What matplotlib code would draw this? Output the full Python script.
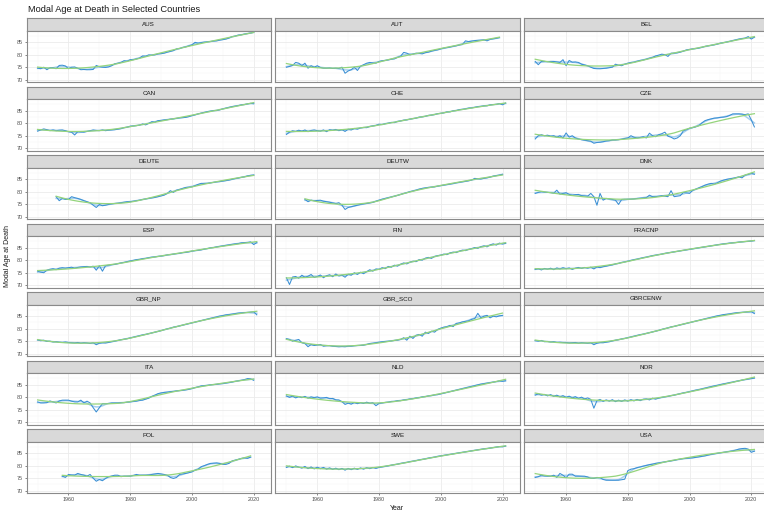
import numpy as np
import matplotlib
matplotlib.use("Agg")
import matplotlib.pyplot as plt

plt.rcParams["font.family"] = ["Liberation Sans", "DejaVu Sans"]

# ---------------------------------------------------------------- data
countries = ["AUS", "AUT", "BEL", "CAN", "CHE", "CZE", "DEUTE", "DEUTW", "DNK",
             "ESP", "FIN", "FRACNP", "GBR_NP", "GBR_SCO", "GBRCENW",
             "ITA", "NLD", "NOR", "POL", "SWE", "USA"]

first_year = {"DEUTE": 1956, "DEUTW": 1956, "POL": 1958}

AUS = [74.6, 74.4, 75.0, 74.0, 74.8, 74.8, 74.4, 75.7, 75.8, 75.5,
       74.4, 75.0, 75.1, 74.6, 74.0, 74.1, 74.0, 74.0, 74.1, 75.7,
       75.2, 75.0, 74.9, 75.1, 75.6, 76.4, 76.6, 76.9, 77.6, 77.4,
       78.0, 78.0, 78.3, 78.6, 79.5, 79.4, 79.9, 79.8, 79.9, 80.3,
       80.4, 80.6, 81.0, 81.3, 81.6, 82.3, 82.4, 82.9, 83.1, 83.5,
       83.9, 84.9, 84.6, 84.8, 85.0, 85.1, 85.2, 85.4, 85.5, 85.8,
       86.0, 86.2, 86.6, 87.2, 87.4, 87.8, 87.9, 88.2, 88.4, 88.6, 88.9]
AUT = [75.0, 75.3, 75.7, 76.9, 76.6, 75.6, 76.6, 74.6, 75.6, 75.0,
       75.6, 74.9, 74.6, 74.6, 74.7, 74.5, 74.6, 74.5, 75.0, 72.6,
       73.5, 74.0, 75.0, 73.7, 75.4, 76.0, 76.6, 76.9, 76.7, 76.6,
       77.3, 77.6, 77.7, 77.9, 78.2, 78.3, 78.9, 79.4, 80.9, 80.6,
       79.9, 80.2, 80.6, 80.5, 80.3, 80.8, 81.0, 81.4, 81.7, 81.9,
       82.3, 82.6, 82.8, 83.0, 83.3, 83.5, 83.8, 84.0, 85.5, 85.2,
       85.4, 85.6, 85.7, 85.8, 85.9, 85.5, 86.1, 86.3, 86.5, 86.8]
BEL = [77.3, 76.0, 77.3, 77.3, 77.2, 77.3, 77.3, 77.1, 76.9, 78.0,
       75.6, 77.7, 77.0, 77.1, 76.9, 76.2, 75.9, 75.6, 75.0, 74.5,
       74.4, 74.4, 74.5, 74.6, 74.8, 75.0, 76.2, 75.8, 75.6, 76.2,
       76.6, 76.9, 77.0, 77.4, 77.7, 77.9, 78.2, 78.6, 78.9, 79.5,
       79.8, 80.2, 80.0, 79.3, 80.6, 80.6, 80.7, 81.0, 81.4, 81.9,
       82.1, 82.3, 82.4, 82.6, 82.9, 83.3, 83.5, 83.7, 83.9, 84.2,
       84.6, 84.8, 85.0, 85.3, 85.6, 85.9, 86.2, 86.4, 86.6, 87.2, 86.2, 87.0]
CAN = [76.8, 77.3, 77.7, 77.4, 77.0, 77.3, 77.0, 77.2, 77.3, 77.0,
       76.6, 76.4, 75.3, 76.6, 76.5, 76.4, 76.7, 77.0, 77.3, 77.1,
       77.0, 77.3, 77.0, 77.2, 77.3, 77.4, 77.6, 77.8, 78.2, 78.4,
       78.8, 78.9, 79.0, 79.2, 79.7, 79.3, 79.9, 80.6, 80.4, 81.0,
       81.1, 81.3, 81.4, 81.6, 81.7, 81.9, 82.1, 82.2, 82.3, 82.6,
       83.0, 83.3, 83.7, 84.0, 84.3, 84.6, 84.8, 85.0, 85.0, 85.3,
       85.7, 86.0, 86.3, 86.6, 86.8, 87.0, 87.3, 87.4, 87.7, 87.9, 87.7]
CHE = [75.5, 76.4, 77.0, 76.7, 77.2, 76.8, 77.3, 76.6, 77.1, 77.3,
       77.0, 76.8, 77.3, 76.6, 77.4, 77.2, 77.5, 77.0, 77.4, 76.7,
       77.6, 77.3, 77.9, 77.6, 78.1, 78.3, 78.2, 78.7, 78.9, 79.1,
       79.6, 79.4, 79.8, 80.0, 80.3, 80.2, 80.7, 80.9, 81.2, 81.3,
       81.6, 81.8, 82.0, 82.4, 82.5, 82.7, 83.1, 83.2, 83.4, 83.8,
       83.9, 84.1, 84.5, 84.5, 84.9, 85.0, 85.4, 85.5, 85.7, 86.0,
       86.1, 86.3, 86.6, 86.7, 86.9, 86.9, 87.3, 87.4, 87.5, 87.8, 87.3, 88.0]
CZE = [73.7, 75.0, 75.4, 75.0, 75.2, 74.8, 75.0, 74.4, 75.0, 74.1,
       76.1, 74.4, 75.0, 74.1, 73.7, 73.4, 73.2, 73.0, 72.8, 72.0,
       72.3, 72.4, 72.6, 72.9, 73.0, 73.3, 73.3, 73.4, 73.6, 73.9,
       74.1, 75.0, 74.4, 74.1, 74.3, 74.6, 74.1, 76.0, 75.0, 74.6,
       75.4, 75.8, 76.4, 74.8, 74.4, 73.7, 74.1, 75.0, 77.0, 77.4,
       78.0, 78.2, 78.5, 79.0, 80.1, 81.0, 81.4, 81.7, 82.0, 82.1,
       82.3, 82.4, 82.6, 83.1, 83.7, 83.7, 83.7, 83.6, 83.4, 83.7, 81.3, 78.5]
DEUTE = [78.0, 76.4, 77.3, 76.9,
         76.9, 78.0, 77.6, 77.3, 76.9, 76.4, 76.0, 75.6, 74.6, 73.7,
         74.9, 74.4, 74.6, 74.9, 75.1, 75.3, 75.4, 75.6, 75.8, 76.0,
         76.0, 76.2, 76.4, 76.6, 76.9, 77.1, 77.3, 77.5, 77.7, 78.0,
         78.3, 78.6, 79.3, 80.4, 79.7, 80.6, 80.9, 81.3, 81.7, 81.8,
         81.9, 82.4, 82.9, 83.3, 83.3, 83.3, 83.5, 83.7, 83.9, 84.0,
         84.2, 84.4, 84.6, 84.9, 85.2, 85.4, 85.7, 85.9, 86.3, 86.5, 86.6]
DEUTW = [76.9, 76.0, 76.6, 76.4,
         76.5, 76.6, 76.2, 76.0, 75.8, 75.5, 75.3, 75.6, 74.6, 72.9,
         73.7, 74.0, 74.3, 74.6, 74.9, 75.1, 75.3, 75.5, 75.7, 76.2,
         76.6, 77.0, 77.3, 77.6, 77.9, 78.2, 78.5, 78.9, 79.3, 79.6,
         80.0, 80.3, 80.6, 81.0, 81.3, 81.5, 81.7, 81.8, 81.9, 82.2,
         82.4, 82.6, 82.8, 83.0, 83.2, 83.5, 83.7, 83.9, 84.1, 84.3,
         84.6, 85.3, 85.1, 85.0, 85.3, 85.5, 85.8, 86.2, 86.4, 86.6, 86.9]
DNK = [79.3, 79.7, 80.0, 79.8, 79.7, 79.6, 79.4, 80.6, 79.0, 79.3,
       79.6, 78.9, 78.6, 78.8, 78.9, 78.4, 78.3, 78.2, 79.3, 78.0,
       74.6, 79.3, 76.6, 77.3, 77.1, 76.9, 76.6, 74.9, 76.9, 77.0,
       77.0, 77.0, 77.1, 77.3, 77.4, 77.5, 77.6, 78.6, 78.0, 78.0,
       78.2, 78.4, 78.2, 78.0, 80.4, 78.0, 78.2, 78.4, 79.7, 79.5,
       79.3, 80.5, 81.0, 81.5, 82.0, 82.6, 83.0, 83.3, 83.0, 83.5,
       84.2, 84.6, 84.9, 85.1, 85.3, 85.6, 85.9, 85.5, 86.6, 86.9, 87.3, 86.9]
ESP = [75.6, 75.2, 75.0, 76.0, 76.4, 76.6, 76.2, 76.8, 77.0, 76.8,
       77.0, 77.2, 76.8, 77.1, 77.3, 77.4, 77.5, 77.3, 77.6, 76.0,
       77.8, 75.6, 77.8, 78.0, 78.2, 78.3, 78.6, 78.9, 79.1, 79.4,
       79.7, 79.9, 80.2, 80.3, 80.6, 80.7, 81.0, 81.2, 81.3, 81.5,
       81.6, 81.8, 82.1, 82.2, 82.4, 82.6, 82.7, 83.0, 83.1, 83.3,
       83.6, 83.8, 83.9, 84.1, 84.4, 84.6, 84.9, 85.0, 85.3, 85.5,
       85.7, 85.9, 86.1, 86.3, 86.5, 86.6, 86.9, 87.0, 87.1, 87.3, 86.2, 87.0]
FIN = [73.0, 70.3, 73.3, 73.5, 72.8, 74.0, 73.2, 73.6, 74.3, 73.1,
       73.5, 74.1, 73.0, 73.8, 74.2, 73.4, 74.5, 73.7, 74.0, 73.2,
       74.4, 74.0, 75.0, 74.3, 75.2, 74.6, 75.4, 76.2, 75.6, 76.5,
       76.3, 77.0, 76.6, 77.5, 77.2, 78.0, 77.6, 78.4, 78.9, 78.5,
       79.2, 79.6, 79.4, 80.2, 80.0, 80.8, 81.1, 80.7, 81.5, 81.8,
       82.0, 82.4, 82.2, 82.9, 83.2, 83.0, 83.6, 84.0, 83.8, 84.3,
       84.6, 85.0, 84.7, 85.4, 85.7, 85.3, 86.1, 86.5, 86.0, 86.8, 86.4, 86.7]
FRACNP = [76.3, 76.6, 76.1, 76.7, 76.4, 76.8, 76.2, 76.9, 76.5, 77.0,
          76.6, 76.9, 76.3, 76.8, 77.1, 76.7, 77.1, 76.8, 77.2, 76.5,
          77.3, 77.0, 77.4, 77.6, 77.9, 78.1, 78.5, 78.7, 79.1, 79.3,
          79.6, 79.9, 80.2, 80.4, 80.7, 81.0, 81.2, 81.5, 81.8, 82.0,
          82.2, 82.4, 82.7, 82.9, 83.1, 83.3, 83.5, 83.7, 83.9, 84.1,
          84.3, 84.5, 84.7, 84.9, 85.1, 85.3, 85.5, 85.7, 85.9, 86.1,
          86.3, 86.5, 86.6, 86.8, 86.9, 87.0, 87.2, 87.3, 87.4, 87.5, 87.6, 87.8]
GBR_NP = [75.5, 75.2, 75.4, 74.9, 75.0, 74.7, 74.8, 74.6, 74.5, 74.7,
          74.5, 74.4, 74.3, 74.5, 74.2, 74.4, 74.3, 74.1, 74.4, 73.6,
          74.2, 74.4, 74.3, 74.5, 74.8, 75.0, 75.3, 75.6, 75.8, 76.0,
          76.3, 76.6, 76.9, 77.2, 77.5, 77.7, 78.0, 78.3, 78.6, 78.9,
          79.2, 79.6, 79.9, 80.2, 80.6, 80.8, 81.1, 81.4, 81.7, 82.0,
          82.3, 82.6, 82.9, 83.2, 83.5, 83.8, 84.1, 84.4, 84.7, 85.0,
          85.2, 85.5, 85.6, 85.8, 86.0, 86.2, 86.3, 86.4, 86.5, 86.6, 86.7, 85.5]
GBR_SCO = [76.0, 75.7, 75.0, 75.4, 75.7, 74.4, 74.1, 72.8, 73.7, 73.3,
           73.5, 73.7, 73.0, 73.2, 73.3, 73.0, 72.9, 72.8, 72.9, 72.8,
           73.0, 73.0, 73.2, 73.3, 73.3, 73.4, 73.7, 74.1, 74.2, 74.4,
           74.6, 74.8, 74.9, 75.0, 75.1, 75.3, 75.4, 75.7, 76.4, 75.4,
           77.0, 76.1, 77.4, 77.7, 77.0, 78.6, 78.1, 79.0, 78.6, 79.7,
           80.2, 80.6, 80.8, 81.3, 80.8, 82.1, 82.3, 82.7, 82.9, 83.1,
           83.7, 84.0, 86.1, 84.3, 85.0, 85.3, 84.3, 85.0, 84.7, 85.1, 85.3]
GBRCENW = [75.2, 75.0, 75.3, 74.8, 74.9, 74.7, 74.8, 74.5, 74.6, 74.5,
           74.5, 74.3, 74.4, 74.5, 74.2, 74.4, 74.3, 74.2, 74.4, 73.6,
           74.2, 74.5, 74.4, 74.6, 74.8, 75.1, 75.4, 75.6, 75.9, 76.1,
           76.4, 76.7, 77.0, 77.3, 77.6, 77.8, 78.1, 78.4, 78.7, 79.0,
           79.3, 79.7, 80.0, 80.3, 80.7, 80.9, 81.2, 81.5, 81.8, 82.1,
           82.4, 82.7, 83.0, 83.3, 83.6, 83.9, 84.2, 84.5, 84.8, 85.1,
           85.3, 85.6, 85.7, 85.9, 86.1, 86.3, 86.4, 86.5, 86.6, 86.7, 86.8, 86.0]
ITA = [78.1, 77.7, 77.7, 77.8, 78.5, 78.1, 77.7, 78.5, 78.8, 78.8,
       78.8, 78.4, 78.1, 78.1, 78.8, 77.7, 78.4, 77.7, 75.8, 74.1,
       75.8, 77.4, 77.4, 77.5, 77.7, 77.7, 77.7, 77.8, 77.8, 78.0,
       78.1, 78.3, 78.4, 78.7, 78.8, 79.2, 79.6, 80.3, 80.8, 81.4,
       81.7, 81.9, 82.0, 82.2, 82.3, 82.5, 82.6, 82.7, 82.9, 83.1,
       83.4, 83.8, 84.1, 84.5, 84.6, 84.7, 84.9, 85.0, 85.1, 85.3,
       85.4, 85.6, 85.8, 86.0, 86.3, 86.5, 86.7, 87.0, 87.4, 87.3, 86.7]
NLD = [80.5, 79.9, 80.4, 79.7, 80.2, 79.8, 80.3, 79.6, 80.1, 79.8,
       80.1, 79.6, 79.7, 79.9, 79.4, 79.5, 78.9, 78.9, 78.2, 77.1,
       77.6, 77.2, 77.9, 77.4, 77.8, 77.5, 78.0, 77.6, 77.8, 76.6,
       77.5, 77.7, 77.9, 78.0, 78.3, 78.3, 78.6, 78.6, 78.9, 79.0,
       79.3, 79.4, 79.7, 79.8, 80.1, 80.2, 80.5, 80.6, 80.9, 81.0,
       81.3, 81.6, 81.9, 82.2, 82.5, 82.8, 83.1, 83.4, 83.7, 84.0,
       84.3, 84.6, 84.9, 85.2, 85.4, 85.6, 85.8, 86.0, 86.2, 86.5, 86.3, 86.5]
NOR = [80.8, 81.3, 80.8, 81.1, 80.5, 81.0, 80.3, 80.8, 80.1, 80.6,
       79.9, 80.4, 79.7, 80.2, 79.5, 80.0, 79.3, 79.7, 79.1, 75.6,
       78.6, 79.1, 78.3, 78.9, 78.4, 79.0, 78.2, 78.8, 78.3, 78.9,
       78.4, 79.0, 78.5, 79.1, 78.6, 79.2, 79.3, 78.9, 79.6, 79.2,
       79.6, 79.9, 80.1, 80.3, 80.6, 80.8, 81.1, 81.4, 81.7, 81.9,
       82.2, 82.5, 82.8, 83.0, 83.3, 83.6, 83.9, 84.2, 84.5, 84.7,
       85.0, 85.3, 85.5, 85.8, 86.0, 86.3, 86.5, 86.8, 87.0, 87.2, 87.4, 87.6]
POL = [75.8, 75.3,
       76.5, 76.3, 76.2, 76.9, 76.5, 76.2, 75.8, 76.5, 75.0, 73.8,
       74.5, 74.0, 74.9, 75.6, 75.9, 76.2, 76.2, 75.6, 75.8, 75.8,
       75.8, 76.1, 76.5, 76.2, 76.2, 76.2, 76.3, 76.5, 76.7, 76.9,
       76.7, 76.5, 76.2, 75.3, 74.9, 75.3, 76.5, 76.7, 76.9, 77.2,
       77.5, 78.2, 78.6, 79.6, 80.0, 80.5, 80.9, 81.0, 81.1, 80.9,
       80.5, 80.5, 80.9, 81.9, 82.2, 82.5, 82.9, 83.1, 82.9, 83.4]
SWE = [79.3, 79.8, 79.2, 79.9, 79.4, 79.0, 79.7, 78.8, 79.5, 78.7,
       79.4, 78.8, 79.3, 78.6, 79.1, 78.5, 79.0, 78.4, 78.9, 78.2,
       78.9, 78.4, 79.0, 78.5, 79.1, 78.6, 79.2, 78.8, 79.3, 78.9,
       79.3, 79.5, 79.7, 79.9, 80.2, 80.4, 80.6, 80.9, 81.1, 81.3,
       81.6, 81.8, 82.0, 82.3, 82.5, 82.7, 83.0, 83.2, 83.4, 83.7,
       83.9, 84.1, 84.3, 84.5, 84.7, 84.9, 85.1, 85.3, 85.5, 85.7,
       85.9, 86.1, 86.3, 86.5, 86.7, 86.8, 87.0, 87.2, 87.4, 87.6, 87.5, 87.8]
USA = [75.3, 75.6, 76.2, 75.9, 75.8, 75.8, 76.2, 75.3, 76.9, 76.2,
       75.2, 76.6, 76.6, 75.8, 75.8, 75.8, 75.8, 75.5, 74.9, 74.9,
       75.3, 75.2, 74.5, 74.2, 74.2, 74.2, 74.2, 74.2, 74.4, 74.6,
       78.0, 78.6, 78.8, 79.2, 79.5, 79.8, 80.1, 80.4, 80.6, 80.9,
       81.1, 81.3, 81.5, 81.7, 81.9, 82.1, 82.4, 82.6, 82.8, 82.9,
       83.0, 83.1, 83.3, 83.5, 83.7, 83.9, 84.2, 84.5, 84.7, 84.9,
       85.1, 85.3, 85.5, 85.7, 85.9, 86.2, 86.6, 86.8, 86.9, 86.6, 85.3, 85.8]

series = {"AUS": AUS, "AUT": AUT, "BEL": BEL, "CAN": CAN, "CHE": CHE,
          "CZE": CZE, "DEUTE": DEUTE, "DEUTW": DEUTW, "DNK": DNK,
          "ESP": ESP, "FIN": FIN, "FRACNP": FRACNP, "GBR_NP": GBR_NP,
          "GBR_SCO": GBR_SCO, "GBRCENW": GBRCENW, "ITA": ITA, "NLD": NLD,
          "NOR": NOR, "POL": POL, "SWE": SWE, "USA": USA}

x_ticks = [1960, 1980, 2000, 2020]
y_ticks = [70, 75, 80, 85]


# ---------------------------------------------------------------- smoothing
def loess(x, y, span=0.75, degree=2):
    x = np.asarray(x, float)
    y = np.asarray(y, float)
    n = len(x)
    k = int(np.ceil(span * n))
    out = np.empty(n)
    for i, x0 in enumerate(x):
        d = np.abs(x - x0)
        h = np.sort(d)[k - 1] * max(1.0, span) + 1e-9
        w = np.clip(1 - (d / h) ** 3, 0, None) ** 3
        X = np.vander(x - x0, degree + 1)
        sw = np.sqrt(w)
        coef, *_ = np.linalg.lstsq(X * sw[:, None], y * sw, rcond=None)
        out[i] = coef[-1]
    return out


# ---------------------------------------------------------------- layout
W_PX, H_PX = 764, 512
fig = plt.figure(figsize=(W_PX / 100, H_PX / 100), dpi=100)
fig.patch.set_facecolor("white")


def rect(x0, y0, w, h):
    return [x0 / W_PX, 1 - (y0 + h) / H_PX, w / W_PX, h / H_PX]


col_left = [26.5, 275.3, 524.1]
panel_w = 244.5
row_top = 18.3
row_step = 68.5
strip_h = 12.5
panel_h = 51.6

XLIM = (1946.4, 2025.6)
YLIM = (68.95, 89.5)

RAW = "#3a8fd4"
SOFT = "#a8d0ee"
TREND = "#95d47c"
EDGE = "#8a8a8a"
GRID = "#ebebeb"

for idx, name in enumerate(countries):
    r, c = divmod(idx, 3)
    x0 = col_left[c]
    y0 = row_top + r * row_step

    # facet strip
    sax = fig.add_axes(rect(x0, y0, panel_w, strip_h))
    sax.set_xlim(0, 1)
    sax.set_ylim(0, 1)
    sax.set_facecolor("#d9d9d9")
    sax.set_xticks([])
    sax.set_yticks([])
    for sp in sax.spines.values():
        sp.set_color(EDGE)
        sp.set_linewidth(0.8)
    sax.text(0.5, 0.5, name, ha="center", va="center", fontsize=4.5,
             color="#1a1a1a")

    # data panel
    ax = fig.add_axes(rect(x0, y0 + strip_h, panel_w, panel_h))
    vals = np.array(series[name], float)
    start = first_year.get(name, 1950)
    years = np.arange(start, start + len(vals))

    ax.plot(years, vals, color=RAW, lw=0.75, zorder=3)
    ax.plot(years, loess(years, vals, span=0.12, degree=1), color=SOFT,
            lw=1.1, zorder=2)
    ax.plot(years, loess(years, vals, span=0.75, degree=2), color=TREND,
            lw=0.9, zorder=4)

    ax.set_xlim(*XLIM)
    ax.set_ylim(*YLIM)
    ax.set_xticks(x_ticks)
    ax.set_xticks([1950, 1970, 1990, 2010], minor=True)
    ax.set_yticks(y_ticks)
    ax.set_yticks([72.5, 77.5, 82.5, 87.5], minor=True)
    ax.grid(which="major", color=GRID, lw=0.6)
    ax.grid(which="minor", color="#f4f4f4", lw=0.35)
    ax.set_axisbelow(True)
    for sp in ax.spines.values():
        sp.set_color(EDGE)
        sp.set_linewidth(0.8)
    ax.tick_params(which="both", length=0)
    ax.tick_params(which="major", length=1.6, width=0.5, color="#555555",
                   labelsize=3.9, labelcolor="#4d4d4d", pad=1.2)
    if c != 0:
        ax.tick_params(axis="y", which="major", length=0, labelleft=False)
    if r != 6:
        ax.tick_params(axis="x", which="major", length=0, labelbottom=False)

fig.text(27.5 / W_PX, 1 - 9.5 / H_PX, "Modal Age at Death in Selected Countries",
         ha="left", va="center", fontsize=6.65, color="#1a1a1a")
fig.text(397 / W_PX, 1 - 508 / H_PX, "Year", ha="center", va="center",
         fontsize=5.0, color="#1a1a1a")
fig.text(8 / W_PX, 1 - 256 / H_PX, "Modal Age at Death", ha="center",
         va="center", rotation=90, fontsize=5.0, color="#1a1a1a")

fig.savefig("out.png", dpi=100, facecolor="white")
